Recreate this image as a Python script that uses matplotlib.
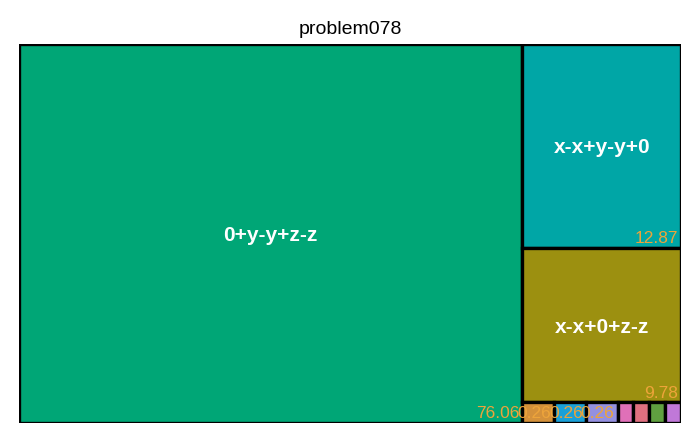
"""Treemap of expression shares for problem078."""

import matplotlib

matplotlib.use("Agg")
import matplotlib.pyplot as plt
from matplotlib.patches import Rectangle

plt.rcParams["font.family"] = ["Liberation Sans", "DejaVu Sans"]

labels = ["0+y-y+z-z", "x-x+y-y+0", "x-x+0+z-z", "", "", "", "", "", "", ""]
values = [76.06, 12.87, 9.78, 0.26, 0.26, 0.26, 0.13, 0.13, 0.13, 0.13]
value_text = ["76.06", "12.87", "9.78", "0.26", "0.26", "0.26", "", "", "", ""]
colors = ["#00a676", "#00a6a6", "#9c9010", "#d4913a", "#1aa0d8",
          "#9490e0", "#e070b8", "#e07080", "#60a040", "#c078d8"]

W, H = 662.0, 379.0


def worst(sizes, dx, dy):
    # worst aspect ratio of a strip laid out in a dx x dy rect
    rects = layout(sizes, 0, 0, dx, dy)
    return max(max(r[2] / r[3], r[3] / r[2]) for r in rects)


def layout(sizes, x, y, dx, dy):
    area = sum(sizes)
    out = []
    if dx >= dy:
        w = area / dy
        for s in sizes:
            out.append((x, y, w, s / w))
            y += s / w
    else:
        h = area / dx
        for s in sizes:
            out.append((x, y, s / h, h))
            x += s / h
    return out


def leftover(sizes, x, y, dx, dy):
    area = sum(sizes)
    if dx >= dy:
        w = area / dy
        return x + w, y, dx - w, dy
    h = area / dx
    return x, y + h, dx, dy - h


def squarify(sizes, x, y, dx, dy):
    if not sizes:
        return []
    if len(sizes) == 1:
        return layout(sizes, x, y, dx, dy)
    i = 1
    while i < len(sizes) and worst(sizes[:i], dx, dy) >= worst(sizes[:i + 1], dx, dy):
        i += 1
    cur, rest = sizes[:i], sizes[i:]
    lx, ly, ldx, ldy = leftover(cur, x, y, dx, dy)
    return layout(cur, x, y, dx, dy) + squarify(rest, lx, ly, ldx, ldy)


total = sum(values)
norm = [v * W * H / total for v in values]
rects = squarify(norm, 0, 0, W, H)

fig = plt.figure(figsize=(7, 4.33), dpi=100)
ax = fig.add_axes([19 / 700, 10 / 433, 662 / 700, 379 / 433])
ax.set_xlim(0, W)
ax.set_ylim(H, 0)
ax.axis("off")

for (x, y, dx, dy), c in zip(rects, colors):
    ax.add_patch(Rectangle((x, y), dx, dy, facecolor=c, edgecolor="black", linewidth=2.4))

for (x, y, dx, dy), lab, vt in zip(rects, labels, value_text):
    if lab:
        ax.text(x + dx / 2, y + dy / 2 + 2, lab, ha="center", va="center",
                color="white", fontsize=15, fontweight="bold")
    if vt:
        ax.text(x + dx - 3, y + dy - 1.5, vt, ha="right", va="bottom",
                color="#eda43a", fontsize=12.5)

fig.text(0.5, (433 - 29) / 433, "problem078", ha="center", va="center", fontsize=14)

fig.savefig("out.png", dpi=100)
